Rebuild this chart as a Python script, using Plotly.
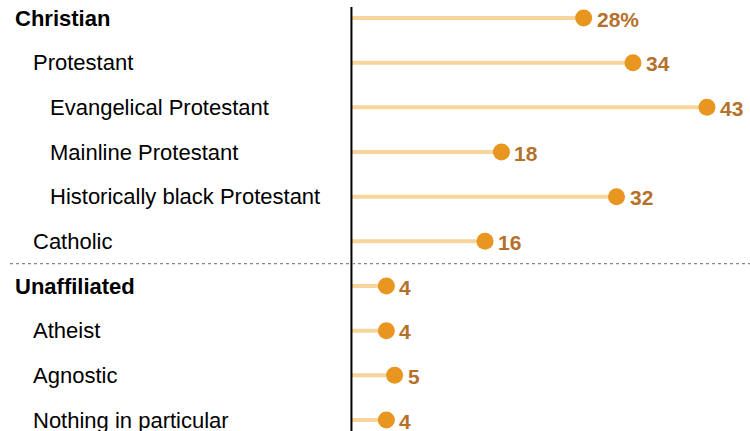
import plotly.graph_objects as go

categories = ["Christian", "Protestant", "Evangelical Protestant", "Mainline Protestant",
              "Historically black Protestant", "Catholic", "Unaffiliated", "Atheist",
              "Agnostic", "Nothing in particular"]
values = [28, 34, 43, 18, 32, 16, 4, 4, 5, 4]
value_labels = ["28%", "34", "43", "18", "32", "16", "4", "4", "5", "4"]
indent_level = [0, 1, 2, 2, 2, 1, 0, 1, 1, 1]
bold_rows = [True, False, False, False, False, False, True, False, False, False]

W, H = 750, 431
ZERO_PX = 353.5
PX_PER_UNIT = 8.22
ROW0_PX = 18.0
ROW_STEP = 44.67
BASE = -0.2

x_min = -ZERO_PX / PX_PER_UNIT
x_max = (W - ZERO_PX) / PX_PER_UNIT
y_top = -ROW0_PX / ROW_STEP
y_bot = (H - ROW0_PX) / ROW_STEP

DOT = "#E8961F"
STEM = "#F6D49C"
TXT = "#B5712A"
FONT = "Liberation Sans, Arial"

rows = list(range(len(categories)))

sx, sy = [], []
for i, v in zip(rows, values):
    sx += [BASE, v, None]
    sy += [i, i, None]

fig = go.Figure()
fig.add_trace(go.Scatter(x=sx, y=sy, mode="lines", line=dict(color=STEM, width=4),
                         hoverinfo="skip", showlegend=False))
fig.add_trace(go.Scatter(x=values, y=rows, mode="markers",
                         marker=dict(color=DOT, size=17, line=dict(width=0)),
                         showlegend=False))

for i, v, lab in zip(rows, values, value_labels):
    fig.add_annotation(x=v, y=i, text=f"<b>{lab}</b>", showarrow=False,
                       xanchor="left", yanchor="middle", xshift=11, yshift=-1,
                       font=dict(family=FONT, size=21, color=TXT))

indent_px = [13, 31, 48]
for i, (cat, lvl, b) in enumerate(zip(categories, indent_level, bold_rows)):
    fig.add_annotation(x=indent_px[lvl] / W, xref="paper", y=i, yref="y",
                       text=f"<b>{cat}</b>" if b else cat, showarrow=False,
                       xanchor="left", yanchor="middle",
                       font=dict(family=FONT, size=22, color="#000000"))

# axis baseline
fig.add_shape(type="line", xref="x", yref="paper", x0=BASE - 0.05, x1=BASE - 0.05,
              y0=0, y1=1 - 7 / H, line=dict(color="#000000", width=2))
# dotted separator
fig.add_shape(type="line", xref="paper", yref="y", x0=10 / W, x1=1,
              y0=5.5, y1=5.5, line=dict(color="#888888", width=1.2, dash="dot"))

fig.update_layout(
    width=W, height=H,
    margin=dict(l=0, r=0, t=0, b=0),
    paper_bgcolor="white", plot_bgcolor="white",
    xaxis=dict(range=[x_min, x_max], visible=False, fixedrange=True),
    yaxis=dict(range=[y_bot, y_top], visible=False, fixedrange=True),
)

fig.write_html("out.html", config={"displayModeBar": False},
               post_script="document.body.style.margin='0';document.body.style.overflow='hidden';")
